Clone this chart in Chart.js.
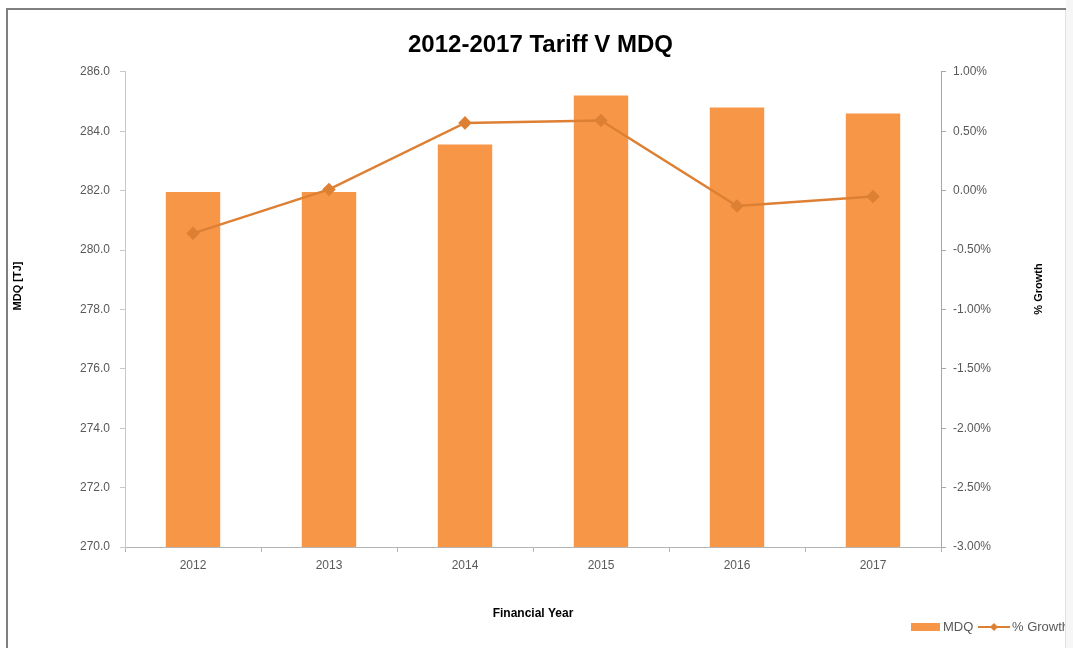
<!DOCTYPE html>
<html>
<head>
<meta charset="utf-8">
<title>2012-2017 Tariff V MDQ</title>
<script src="https://cdn.jsdelivr.net/npm/chart.js@4"></script>
<style>
  html, body { margin: 0; padding: 0; background: #fff; }
  #wrap { position: relative; width: 1073px; height: 648px; }
</style>
</head>
<body>
<div id="wrap"><canvas id="tariffChart" width="1073" height="648"></canvas></div>
<script>
// -------------------------------------------------------------------------- Data

const years = ['2012', '2013', '2014', '2015', '2016', '2017']
const mdq = [281.95, 281.95, 283.55, 285.2, 284.8, 284.6]      // TJ
const growth = [-0.36, 0.01, 0.57, 0.59, -0.13, -0.05]          // %

const barColor = '#F79646'
const lineColor = '#DD8034'
const tickColor = '#595959'

// -------------------------------------------------------------------------- Frame + axis titles + legend

const frame = {
    id: 'frame',
    beforeDraw(chart) {
        const ctx = chart.ctx
        ctx.save()
        ctx.fillStyle = '#fff'
        ctx.fillRect(0, 0, chart.width, chart.height)
        ctx.fillStyle = '#F6F6F6'
        ctx.fillRect(1066, 0, chart.width - 1066, chart.height)
        ctx.strokeStyle = '#E2E2E2'
        ctx.lineWidth = 1
        ctx.beginPath()
        ctx.moveTo(1065.5, 10)
        ctx.lineTo(1065.5, chart.height)
        ctx.stroke()
        ctx.strokeStyle = '#7F7F7F'
        ctx.lineWidth = 2
        ctx.beginPath()
        ctx.moveTo(7, chart.height)
        ctx.lineTo(7, 9)
        ctx.lineTo(1066, 9)
        ctx.stroke()
        ctx.restore()
    }
}

const extras = {
    id: 'extras',
    afterDraw(chart) {
        const ctx = chart.ctx
        ctx.save()

        // rotated axis titles, both reading bottom to top
        ctx.fillStyle = '#000'
        ctx.font = 'bold 11px "Liberation Sans", Arial, sans-serif'
        ctx.textAlign = 'center'
        ctx.textBaseline = 'middle'
        ctx.save()
        ctx.translate(18, 286)
        ctx.rotate(-Math.PI / 2)
        ctx.fillText('MDQ [TJ]', 0, 0)
        ctx.restore()
        ctx.save()
        ctx.translate(1039, 289)
        ctx.rotate(-Math.PI / 2)
        ctx.fillText('% Growth', 0, 0)
        ctx.restore()

        // legend, cut off at the frame edge
        ctx.beginPath()
        ctx.rect(0, 0, 1065, chart.height)
        ctx.clip()
        const y = 627
        ctx.fillStyle = barColor
        ctx.fillRect(911, 623, 29, 8)
        ctx.font = '13px "Liberation Sans", Arial, sans-serif'
        ctx.fillStyle = tickColor
        ctx.textAlign = 'left'
        ctx.fillText('MDQ', 943, y)
        ctx.strokeStyle = lineColor
        ctx.lineWidth = 2
        ctx.beginPath()
        ctx.moveTo(978, y)
        ctx.lineTo(1010, y)
        ctx.stroke()
        ctx.fillStyle = lineColor
        ctx.beginPath()
        ctx.moveTo(994, y - 4)
        ctx.lineTo(998, y)
        ctx.lineTo(994, y + 4)
        ctx.lineTo(990, y)
        ctx.closePath()
        ctx.fill()
        ctx.fillStyle = tickColor
        ctx.fillText('% Growth', 1012, y)

        ctx.restore()
    }
}

// -------------------------------------------------------------------------- Chart Config

const tickFont = { family: '"Liberation Sans", Arial, sans-serif', size: 12 }

const config = {
    type: 'bar',
    data: {
        labels: years,
        datasets: [{
            type: 'line',
            label: '% Growth',
            data: growth,
            yAxisID: 'yR',
            borderColor: lineColor,
            backgroundColor: lineColor,
            borderWidth: 2.5,
            pointStyle: 'rectRot',
            pointRadius: 5,
            pointHoverRadius: 5,
            tension: 0,
            order: 0
        }, {
            label: 'MDQ',
            data: mdq,
            yAxisID: 'y',
            backgroundColor: barColor,
            categoryPercentage: 1,
            barPercentage: 0.4,
            order: 1
        }]
    },
    options: {
        responsive: false,
        animation: false,
        layout: {
            padding: { left: 8, right: 0, top: 0, bottom: 22 }
        },
        plugins: {
            legend: { display: false },
            tooltip: { enabled: false },
            title: {
                display: true,
                text: '2012-2017 Tariff V MDQ',
                color: '#000',
                font: { family: '"Liberation Sans", Arial, sans-serif', size: 24, weight: 'bold' },
                padding: { top: 31, bottom: 12 }
            }
        },
        scales: {
            x: {
                grid: { drawOnChartArea: false, color: '#B5B5B5', tickLength: 5, offset: true },
                border: { color: '#B5B5B5', width: 1 },
                ticks: { color: tickColor, font: tickFont, padding: 6 },
                title: {
                    display: true,
                    text: 'Financial Year',
                    color: '#000',
                    font: { family: '"Liberation Sans", Arial, sans-serif', size: 12, weight: 'bold' },
                    padding: { top: 4, bottom: 5 }
                },
                afterFit(scale) { scale.height = 79 }
            },
            y: {
                position: 'left',
                min: 270,
                max: 286,
                grid: { drawOnChartArea: false, color: '#C8C8C8', tickLength: 5 },
                border: { color: '#C8C8C8', width: 1 },
                ticks: {
                    stepSize: 2,
                    color: tickColor,
                    font: tickFont,
                    padding: 10,
                    callback: v => v.toFixed(1)
                },
                afterFit(scale) { scale.width = 117 }
            },
            yR: {
                position: 'right',
                min: -3,
                max: 1,
                grid: { drawOnChartArea: false, color: '#A6A6A6', tickLength: 5 },
                border: { color: '#A6A6A6', width: 1 },
                ticks: {
                    stepSize: 0.5,
                    color: tickColor,
                    font: tickFont,
                    padding: 7,
                    callback: v => v.toFixed(2) + '%'
                },
                afterFit(scale) { scale.width = 132 }
            }
        }
    },
    plugins: [frame, extras]
}

// -------------------------------------------------------------------------- Render Chart

let tariffChart = new Chart(
    document.getElementById('tariffChart'),
    config
)
</script>
</body>
</html>
